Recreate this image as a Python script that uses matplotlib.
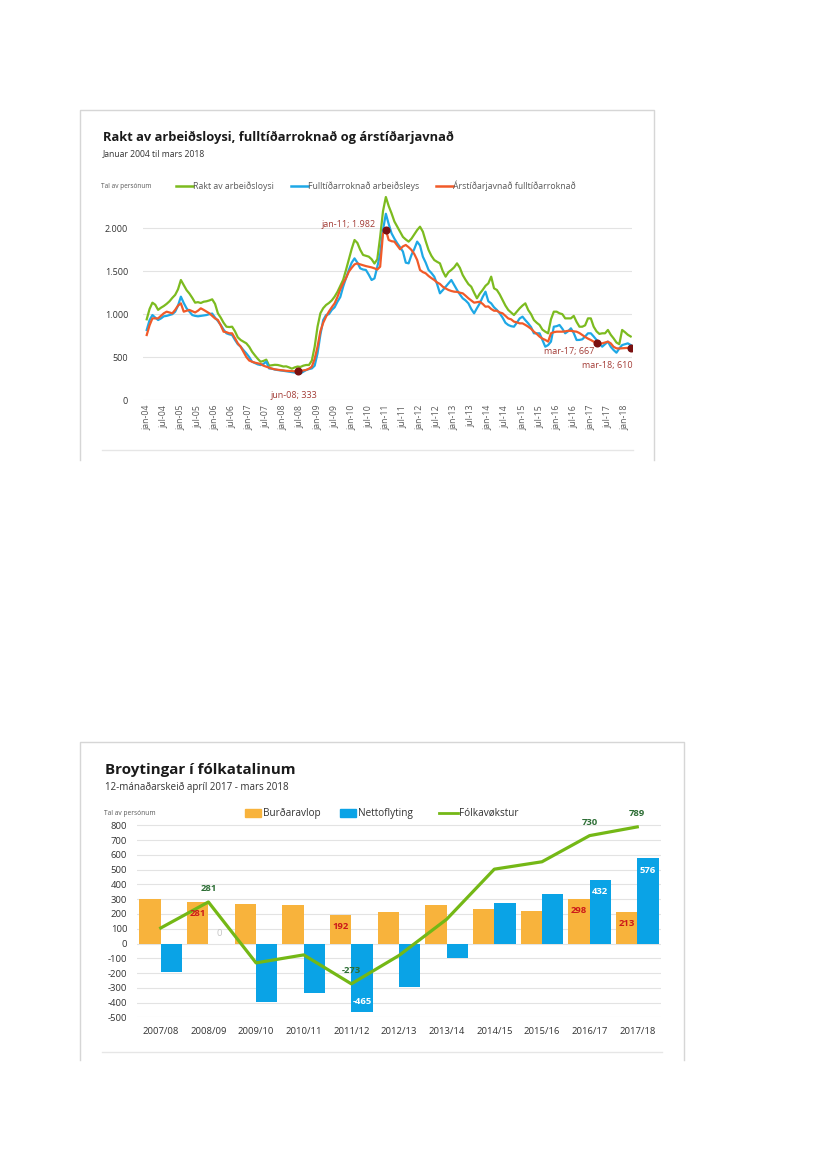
import numpy as np
import matplotlib
matplotlib.use('Agg')
import matplotlib.pyplot as plt
from matplotlib.ticker import FuncFormatter
from matplotlib.patches import Rectangle

plt.rcParams['font.family'] = ['Open Sans', 'DejaVu Sans']

# ---- chart 1: monthly, jan-04 .. mar-18 ----
rakt = [940, 1060, 1134, 1110, 1050, 1075, 1095, 1120, 1150, 1190, 1225, 1290,
        1398, 1340, 1280, 1240, 1190, 1134, 1140, 1130, 1145, 1150, 1160, 1173,
        1120, 1010, 960, 900, 854, 850, 854, 800, 730, 699, 680, 660,
        620, 563, 520, 480, 446, 455, 470, 400, 405, 410, 408, 400,
        390, 392, 380, 365, 380, 390, 385, 400, 408, 408, 460, 621,
        854, 1010, 1070, 1107, 1130, 1160, 1204, 1260, 1330, 1400, 1515, 1640,
        1760, 1864, 1830, 1750, 1690, 1680, 1670, 1640, 1590, 1640, 1900, 2200,
        2365, 2260, 2175, 2080, 2019, 1960, 1900, 1870, 1845, 1880, 1930, 1980,
        2019, 1961, 1850, 1748, 1680, 1631, 1610, 1592, 1500, 1437, 1490, 1515,
        1546, 1592, 1540, 1456, 1400, 1350, 1320, 1250, 1185, 1240, 1282, 1330,
        1359, 1437, 1301, 1282, 1230, 1165, 1100, 1049, 1020, 990, 1030, 1068,
        1100, 1126, 1049, 1000, 932, 900, 874, 820, 796, 777, 940, 1029,
        1029, 1010, 1000, 951, 951, 951, 980, 910, 854, 854, 870, 951,
        951, 854, 800, 770, 777, 777, 816, 760, 718, 670, 650, 816,
        790, 760, 740]

fulltid = [816, 930, 990, 960, 932, 950, 975, 980, 990, 1000, 1029, 1100,
           1204, 1130, 1068, 1030, 990, 980, 975, 980, 985, 990, 1000, 1007,
           960, 920, 874, 820, 777, 765, 757, 700, 650, 621, 580, 543,
           500, 446, 430, 415, 407, 420, 446, 368, 365, 355, 349, 345,
           340, 335, 330, 325, 320, 315, 310, 330, 349, 360, 368, 400,
           543, 760, 932, 990, 1000, 1049, 1080, 1145, 1200, 1320, 1420, 1515,
           1600, 1650, 1600, 1534, 1520, 1515, 1460, 1398, 1417, 1553, 1700, 1980,
           2170, 2050, 1942, 1880, 1826, 1780, 1729, 1600, 1592, 1690, 1760, 1845,
           1800, 1670, 1600, 1515, 1480, 1437, 1350, 1243, 1280, 1320, 1360, 1398,
           1340, 1282, 1230, 1185, 1160, 1126, 1060, 1010, 1070, 1126, 1200, 1262,
           1150, 1126, 1080, 1049, 1010, 960, 900, 874, 860, 854, 900, 950,
           971, 930, 893, 850, 777, 777, 777, 700, 621, 640, 680, 854,
           860, 874, 830, 777, 800, 835, 780, 699, 700, 707, 740, 777,
           777, 740, 699, 660, 621, 650, 680, 620, 582, 551, 600, 640,
           650, 660, 640]

arstid = [757, 870, 951, 951, 951, 980, 1010, 1029, 1020, 1010, 1050, 1100,
          1126, 1029, 1040, 1049, 1035, 1020, 1040, 1068, 1050, 1030, 1010, 980,
          950, 932, 870, 796, 790, 777, 777, 720, 660, 621, 560, 500,
          460, 446, 435, 427, 420, 400, 388, 375, 365, 357, 352, 348,
          345, 340, 338, 336, 335, 333, 338, 345, 350, 365, 388, 480,
          621, 800, 900, 971, 1030, 1080, 1126, 1200, 1290, 1359, 1420, 1495,
          1540, 1580, 1592, 1580, 1570, 1560, 1553, 1545, 1534, 1520, 1553, 1942,
          1982, 1864, 1850, 1845, 1800, 1756, 1790, 1806, 1780, 1748, 1700, 1631,
          1515, 1490, 1476, 1445, 1420, 1398, 1370, 1352, 1320, 1300, 1282, 1270,
          1262, 1260, 1250, 1243, 1215, 1185, 1160, 1134, 1140, 1145, 1120, 1087,
          1090, 1060, 1040, 1040, 1020, 1010, 980, 950, 940, 913, 905, 893,
          893, 875, 854, 830, 796, 770, 738, 715, 700, 680, 777, 790,
          796, 796, 796, 800, 806, 806, 800, 796, 780, 757, 735, 715,
          699, 680, 667, 655, 660, 670, 680, 660, 620, 602, 600, 602,
          605, 608, 610]

tick_labels = [f'{m}-{y:02d}' for y in range(4, 19) for m in ('jan', 'jul')][:29]
# marked points: (index, label)
marks = [(53, 'jun-08'), (84, 'jan-11'), (158, 'mar-17'), (170, 'mar-18')]

# ---- chart 2: yearly ----
years = ['2007/08', '2008/09', '2009/10', '2010/11', '2011/12', '2012/13',
         '2013/14', '2014/15', '2015/16', '2016/17', '2017/18']
burdaravlop = [300, 281, 267, 260, 192, 211, 260, 231, 218, 298, 213]
nettoflyting = [-195, 0, -398, -337, -465, -292, -96, 272, 335, 432, 576]
folkavokstur = [105, 281, -131, -77, -273, -81, 164, 503, 553, 730, 789]
labelled = [1, 4, 9, 10]

W, H = 827, 1169
fig = plt.figure(figsize=(W / 100, H / 100), dpi=100)


def box(l, t, r, b):
    return [l / W, 1 - b / H, (r - l) / W, (b - t) / H]


ov = fig.add_axes([0, 0, 1, 1])
ov.set_xlim(0, W)
ov.set_ylim(H, 0)
ov.axis('off')

grey = '#595959'
edge = '#d6d6d6'
# card outlines
for (l, t, r, b, sep, sl, sr) in [(80, 110, 654, 460, 450, 102, 633),
                                   (80, 742, 684, 1060, 1052, 102, 662)]:
    ov.plot([l, l, r, r], [b, t, t, b], color=edge, lw=1)
    ov.plot([sl, sr], [sep, sep], color='#e6e6e6', lw=1)

# ---------- top chart ----------
c_green, c_blue, c_orange = '#7cbb1f', '#1ea8e6', '#f15a29'
ov.text(103, 137, 'Rakt av arbeiðsloysi, fulltíðarroknað og árstíðarjavnað',
        fontsize=9.3, fontweight='bold', color='#1a1a1a', va='center')
ov.text(103, 154, 'Januar 2004 til mars 2018', fontsize=6.2, color='#333333', va='center')
ov.text(101, 188, 'Tal av persónum', fontsize=4.7, color=grey, va='baseline')
for x0, lab, c in [(176, 'Rakt av arbeiðsloysi', c_green),
                   (291, 'Fulltíðarroknað arbeiðsleys', c_blue),
                   (436, 'Árstíðarjavnað fulltíðarroknað', c_orange)]:
    ov.plot([x0, x0 + 17], [186, 186], color=c, lw=1.8)
    ov.text(x0 + 17, 189, lab, fontsize=6.3, color=grey, va='baseline')

ax1 = fig.add_axes(box(143.3, 194, 632.1, 400))
ax1.set_facecolor('none')
m = np.arange(len(rakt))
ax1.plot(m, rakt, color=c_green, lw=1.6)
ax1.plot(m, fulltid, color=c_blue, lw=1.6)
ax1.plot(m, arstid, color=c_orange, lw=1.6)
ax1.set_xlim(-1.2, 170.5)
ax1.set_ylim(0, 2400)
ax1.set_yticks([0, 500, 1000, 1500, 2000])
ax1.yaxis.set_major_formatter(FuncFormatter(lambda v, p: f'{v:,.0f}'.replace(',', '.')))
ax1.set_xticks(np.arange(0, 169, 6))
ax1.set_xticklabels(tick_labels, rotation=90, fontsize=6.3, color=grey)
ax1.tick_params(axis='y', labelsize=6.5, colors='#333333', length=0, pad=11)
ax1.tick_params(axis='x', length=0, pad=3.5)
ax1.yaxis.grid(True, color='#e3e3e3', lw=0.8)
ax1.set_axisbelow(True)
for s in ax1.spines.values():
    s.set_visible(False)

dot = '#7a1010'
lab_c = '#a33b35'
offs = {'jun-08': (-3, -17, 'center'), 'jan-11': (-7, 3.6, 'right'),
        'mar-17': (-1.5, -6, 'right'), 'mar-18': (1.5, -12.5, 'right')}
for i, name in marks:
    v = arstid[i]
    ax1.plot(m[i], v, 'o', color=dot, ms=4.8, zorder=5)
    dx, dy, ha = offs[name]
    ax1.annotate(f'{name}; {v:,}'.replace(',', '.'), (m[i], v), xytext=(dx, dy),
                 textcoords='offset points', ha=ha, va='center', fontsize=6.5, color=lab_c)

# ---------- bottom chart ----------
b_orange, b_blue, b_green = '#f8b33c', '#0aa3e6', '#74b816'
ov.text(105, 770, 'Broytingar í fólkatalinum', fontsize=10.9, fontweight='bold',
        color='#1a1a1a', va='center')
ov.text(105, 787, '12-mánaðarskeið apríl 2017 - mars 2018', fontsize=7, color='#333333',
        va='center')
ov.text(104, 815, 'Tal av persónum', fontsize=4.8, color=grey, va='baseline')
ov.add_patch(Rectangle((245, 809), 16, 8, color=b_orange))
ov.text(263, 816, 'Burðaravlop', fontsize=7.2, color='#333333', va='baseline')
ov.add_patch(Rectangle((340, 809), 16, 8, color=b_blue))
ov.text(358, 816, 'Nettoflyting', fontsize=7.2, color='#333333', va='baseline')
ov.plot([439, 458], [813, 813], color=b_green, lw=2)
ov.text(459, 816, 'Fólkavøkstur', fontsize=7.2, color='#333333', va='baseline')

ax2 = fig.add_axes(box(136.9, 816.4, 661.1, 1017.4))
ax2.set_facecolor('none')
x = np.arange(len(years))
bw = 0.447
ax2.bar(x - bw / 2, burdaravlop, width=bw, color=b_orange)
ax2.bar(x + bw / 2, nettoflyting, width=bw, color=b_blue)
ax2.plot(x, folkavokstur, color=b_green, lw=2.3, zorder=4)
ax2.set_xlim(-0.5, 10.5)
ax2.set_ylim(-500, 860)
ax2.set_yticks(np.arange(-500, 801, 100))
ax2.yaxis.set_major_formatter(FuncFormatter(lambda v, p: f'{int(v)}'))
ax2.set_xticks(x)
ax2.set_xticklabels(years)
ax2.tick_params(axis='y', labelsize=6.8, colors='#333333', length=0, pad=7)
ax2.tick_params(axis='x', labelsize=6.8, colors='#333333', length=0, pad=7)
ax2.yaxis.grid(True, color='#e3e3e3', lw=0.8)
ax2.set_axisbelow(True)
for s in ax2.spines.values():
    s.set_visible(False)

for i in labelled:
    ax2.annotate(str(folkavokstur[i]), (x[i], folkavokstur[i]), xytext=(0, 9.4),
                 textcoords='offset points', ha='center', va='center', fontsize=6.8,
                 fontweight='bold', color='#2d6e35', zorder=6)
    ax2.annotate(str(burdaravlop[i]), (x[i] - bw / 2, burdaravlop[i]), xytext=(0, -8.3),
                 textcoords='offset points', ha='center', va='center', fontsize=6.8,
                 fontweight='bold', color='#cc1a1a', zorder=6)
    nv = nettoflyting[i]
    if nv == 0:
        ax2.annotate('0', (x[i] + bw / 2, 0), xytext=(0, 7.5), textcoords='offset points',
                     ha='center', va='center', fontsize=6.8, color='#c4c4c4')
    else:
        dy = -8.6 if nv > 0 else 7.6
        ax2.annotate(str(nv), (x[i] + bw / 2, nv), xytext=(0, dy), textcoords='offset points',
                     ha='center', va='center', fontsize=6.8, fontweight='bold',
                     color='white', zorder=6)

fig.savefig('out.png', dpi=100)
